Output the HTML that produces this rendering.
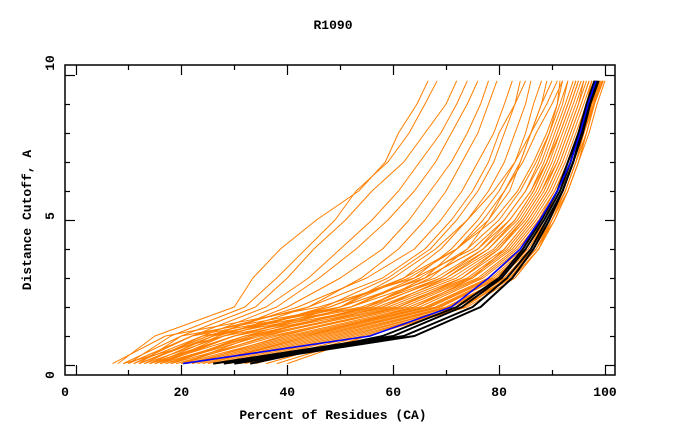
<!DOCTYPE html>
<html><head><meta charset="utf-8"><style>
html,body{margin:0;padding:0;background:#fff;}
svg{display:block;}
text{font-family:"Liberation Mono",monospace;font-weight:bold;fill:#000;}
</style></head><body>
<svg id="chart" width="680" height="440" viewBox="0 0 680 440" xmlns="http://www.w3.org/2000/svg">
<text x="333" y="29" font-size="13" text-anchor="middle">R1090</text>
<text x="333" y="419" font-size="13" text-anchor="middle">Percent of Residues (CA)</text>
<text x="0" y="0" font-size="13" text-anchor="middle" transform="translate(31,220) rotate(-90)">Distance Cutoff, A</text>
<defs><clipPath id="plotclip"><rect x="65" y="65" width="550" height="310"/></clipPath></defs>
<g id="series" clip-path="url(#plotclip)"></g>
<g id="axes"></g>
</svg>
<script>
const cutoffLevels=[0.05,1,2,3,4,5,6,7,8,9,9.8];
const xTicks=[0,20,40,60,80,100];
const yTicks=[0,5,10];
const orangeSeries=[
[8,15,30,33.5,38.7,45.5,53.5,58.5,61,64.5,66.6],
[10,18,32,38,43.5,49,53,59,63,66,68.3],
[12,20,34,40,45,51,56,62,66,70,72],
[11,22,36,44,50,56,61,65,69,72,74],
[13,24,38,46,53,59,64,68,71,74,76],
[14,26,40,50,58,63,67,71,74,76.5,78],
[15,27,44,54,61,66,70,73,76,78,79.6],
[12,25,42,55,64,69,73,76,79,81,82.5],
[16,28,47,59,67,72,76,79,81,83,84],
[14,30,50,62,69,74,78,81,83,85,86],
[18,32,52,64,71,76,80,83,85,86.5,88],
[20,34,55,67,74,78,82,84,86,88,89],
[9,28,48,63,72,78,81,84,86,88,90],
[10,22,44,58,66,71,75,78,80,83,85],
[15,30,50,60,68,74,79,83,86,89,91],
[17,33,55,66,72,77,81,84.5,87,90,92],
[7,17,46,64,75,81,85,88,90,92,93],
[9,20,50,66,76,82,86,88.5,90.5,92.5,94],
[10,22,52,68,77,83,86.5,89,91,93,94.5],
[11,24,54,69,78,83.5,87,89.5,91.5,93.5,95],
[12,26,55,70,79,84,87.5,90,92,94,95.5],
[13,28,57,71,79.5,84.5,88,90.5,92.5,94.5,96],
[14,30,58,72,80,85,88.5,91,93,95,96.5],
[15,32,59,73,81,85.5,89,91.5,93.5,95.5,97],
[16,34,60,74,81.5,86,89.5,92,94,96,97.5],
[17,35,61,74.5,82,86.5,90,92.5,94.5,96.5,98],
[18,37,62,75,82.5,87,90.5,93,95,97,98.5],
[19,38,63,76,83,87.5,90.5,93,95,96.5,97.5],
[20,40,64,76.5,83.5,88,91,93.5,95.5,97,99],
[21,41,65,77,84,88.5,91.5,94,95.5,97.5,99.5],
[22,42,66,78,84.5,88,91,93.5,95,97,98],
[23,43,66.5,78.5,85,89,92,94,96,97.5,99],
[24,44,67,79,85.5,89,92,94,96,97.8,99.2],
[25,45,68,79.5,85,88.5,91,93,95,96.5,97.5],
[26,46,68.5,80,86,89.5,92.5,94.5,96,98,99.5],
[27,47,69,80,85.5,89,92,94,95.5,97,98.5],
[28,48,70,81,86.5,90,92.5,94.5,96.5,98,99.7],
[29,49,70.5,81,86,89.5,92,94,96,97.5,99],
[30,50,71,81.5,86.5,90,92.5,94.5,96,97.5,98.5],
[31,51,72,82,87,90,93,95,96.5,98,99.5],
[32,52,72,82,86.5,89.5,92,94,95.5,97,98],
[34,53,73,82,87,90.5,93,95,97,98.5,100],
[36,54,73,82.5,87.5,90.5,93,95,96.5,98,99],
[38,55,74,83,87.5,90,92.5,94.5,96,97.5,98.5],
[40,55,73.5,82,87,90,92.5,94.5,96.5,98,99.5],
[20,36,58,70,78,83,86.5,89,91,93,94.5],
[16,30,52,65,74,80,84,87,89.5,91.5,93],
[14,26,48,62,72,79,83.5,86.5,89,91,92],
[18,33,56,69,77,82,86,89,91.5,93.5,95],
[22,39,61,73,80,84.5,88,91,93,95,96],
[25,44,64,75,81,85.5,89,91.5,93.5,95.5,97],
[12,25,50,66,76,81,85,87.5,89.5,91,91.5]
];
const blackSeries=[
[26,60,73,80.5,85,88.5,91.5,93.5,95,96.5,98],
[28,62,75,81.5,86,89,92,94,95.5,97,98.5],
[30,64,76.5,82.5,86.5,89.5,92,94,95.8,97.2,98.8],
[33,58,72,80,84.5,88,91,93,95,96.8,98.2]
];
const blueSeries=[20.3,55.6,71,78,84,87.7,91,93.5,95.3,96.8,98.3];

const NS="http://www.w3.org/2000/svg";
const X0=75.5,XS=5.295,Y0=365,YS=29;
function xs(v){return X0+v*XS;}
function ys(v){return Y0-v*YS;}
const series=document.getElementById('series');
const axes=document.getElementById('axes');
function drawLine(vals,color,w,name){
  const p=document.createElementNS(NS,'polyline');
  p.setAttribute('points',vals.map((v,i)=>xs(v).toFixed(1)+','+ys(cutoffLevels[i]).toFixed(1)).join(' '));
  p.setAttribute('fill','none');
  p.setAttribute('stroke',color);
  p.setAttribute('stroke-width',w);
  p.setAttribute('stroke-linejoin','round');
  
  
  series.appendChild(p);
}
orangeSeries.forEach(s=>drawLine(s,'#ff7f00',1,'orange-model-line'));
blackSeries.forEach(s=>drawLine(s,'#000',2,'black-model-line'));
drawLine(blueSeries,'#0000ff',1.6,'blue-model-line');

function ln(x1,y1,x2,y2,name){
  const l=document.createElementNS(NS,'line');
  l.setAttribute('x1',x1);
  l.setAttribute('y1',y1);
  l.setAttribute('x2',x2);
  l.setAttribute('y2',y2);
  l.setAttribute('stroke','#000');
  l.setAttribute('stroke-width',1.2);
  
  
  axes.appendChild(l);
}
const fr=document.createElementNS(NS,'rect');
fr.setAttribute('x',65);
fr.setAttribute('y',65);
fr.setAttribute('width',550);
fr.setAttribute('height',310);
fr.setAttribute('fill','none');
fr.setAttribute('stroke','#000');
fr.setAttribute('stroke-width',1.5);


axes.appendChild(fr);
for(let v=0;v<=100;v+=10){
  const len=(v%20===0)?10:5;
  const x=Math.round(xs(v))+0.5;
  ln(x,375,x,375-len,'x-tick');
  ln(x,65,x,65+len,'x-tick-top');
}
for(let v=0;v<=10;v+=1){
  const len=(v%5===0)?10:5;
  const y=Math.round(ys(v))+0.5;
  ln(65,y,65+len,y,'y-tick');
  ln(615,y,615-len,y,'y-tick-right');
}
xTicks.forEach(v=>{
  const t=document.createElementNS(NS,'text');
  t.setAttribute('x',v===0?65:xs(v));
  t.setAttribute('y',396);
  t.setAttribute('font-size',13);
  t.setAttribute('text-anchor','middle');
  t.textContent=v;
  
  
  axes.appendChild(t);
});
yTicks.forEach(v=>{
  const t=document.createElementNS(NS,'text');
  const y=v===0?375:(v===10?63:ys(v)-4);
  t.setAttribute('x',0);
  t.setAttribute('y',0);
  t.setAttribute('font-size',13);
  t.setAttribute('text-anchor','middle');
  t.setAttribute('transform','translate(54,'+y+') rotate(-90)');
  t.textContent=v;
  
  
  axes.appendChild(t);
});
</script>
</body></html>
